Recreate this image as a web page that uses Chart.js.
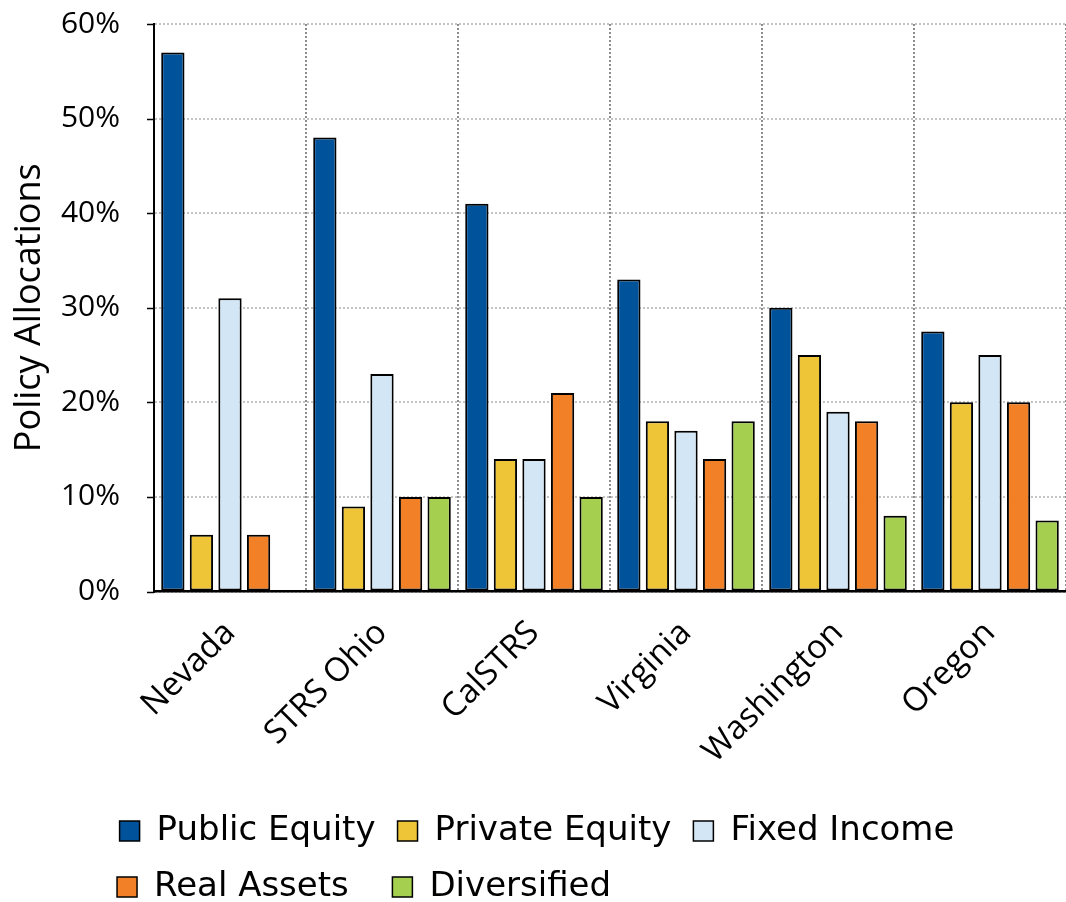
<!DOCTYPE html>
<html>
<head>
<meta charset="utf-8">
<script src="https://cdn.jsdelivr.net/npm/chart.js@4"></script>
<style>
  html, body { margin: 0; padding: 0; background: #fff; }
  #wrap { width: 1066px; height: 902px; }
</style>
</head>
<body>
<div id="wrap"><canvas id="chart"></canvas></div>
<script>
// data
const plans = ["Nevada", "STRS Ohio", "CalSTRS", "Virginia", "Washington", "Oregon"];
const publicEquity  = [57, 48, 41, 33, 30, 27.5];
const privateEquity = [6, 9, 14, 18, 25, 20];
const fixedIncome   = [31, 23, 14, 17, 19, 25];
const realAssets    = [6, 10, 21, 14, 18, 20];
const diversified   = [null, 10, 10, 18, 8, 7.5];
const yTicks = [0, 10, 20, 30, 40, 50, 60];

const sansFont = "'Open Sans', 'DejaVu Sans', sans-serif";
const legendFont = "'DejaVu Sans', sans-serif";

// trailing spaces so the two legend rows line up as columns (rows are centred)
const legendPad = {
  "Real Assets": "Real Assets  ",
  "Diversified": "Diversified" + " ".repeat(32),
};

// solid black tick marks on the y axis (grid lines themselves are dotted)
const tickMarks = {
  id: "tickMarks",
  afterDraw(chart) {
    const y = chart.scales.y, ctx = chart.ctx;
    ctx.save();
    ctx.strokeStyle = "#000";
    ctx.lineWidth = 1.5;
    yTicks.forEach(v => {
      const py = Math.round(y.getPixelForValue(v)) + 0.5;
      ctx.beginPath();
      ctx.moveTo(y.right - 7, py);
      ctx.lineTo(y.right, py);
      ctx.stroke();
    });
    ctx.restore();
  }
};

// legend box is a bit shorter than chart.js makes it
const tightLegend = {
  id: "tightLegend",
  beforeLayout(chart) {
    const lg = chart.legend;
    if (!lg || lg._tight) return;
    const fit = lg.fit;
    lg.fit = function () {
      fit.call(this);
      this.height -= 12;
    };
    lg._tight = true;
  }
};

const ds = (label, data, color) => ({
  label: label,
  data: data,
  backgroundColor: color,
  borderColor: "#000",
  borderWidth: 2,
  borderSkipped: false,
  categoryPercentage: 0.94,
  barPercentage: 0.815,
});

new Chart(document.getElementById("chart"), {
  type: "bar",
  data: {
    labels: plans,
    datasets: [
      ds("Public Equity", publicEquity, "#00529b"),
      ds("Private Equity", privateEquity, "#eec537"),
      ds("Fixed Income", fixedIncome, "#d2e6f5"),
      ds("Real Assets", realAssets, "#f28026"),
      ds("Diversified", diversified, "#a5cf4e"),
    ],
  },
  options: {
    responsive: true,
    maintainAspectRatio: false,
    animation: false,
    layout: { padding: { left: 8, right: 0, top: 24, bottom: 0 } },
    plugins: {
      tooltip: { enabled: false },
      legend: {
        position: "bottom",
        align: "center",
        labels: {
          font: { family: legendFont, size: 34 },
          color: "#000",
          boxWidth: 20,
          boxHeight: 20,
          padding: 22,
          generateLabels(chart) {
            const items = Chart.defaults.plugins.legend.labels.generateLabels(chart);
            items.forEach(it => {
              it.text = legendPad[it.text] || it.text;
              it.lineWidth = 1.5;
            });
            return items;
          },
        },
      },
    },
    scales: {
      x: {
        offset: true,
        afterFit(scale) {
          scale.paddingLeft = 0;
          scale.paddingRight = 0;
          scale.height -= 1;
        },
        grid: {
          offset: true,
          drawTicks: false,
          color: "#8c8c8c",
          lineWidth: 2,
        },
        border: { display: true, color: "#000", width: 2.5, dash: [2, 2] },
        ticks: {
          font: { family: sansFont, size: 33 },
          color: "#000",
          maxRotation: 45,
          minRotation: 45,
          padding: 22,
        },
      },
      y: {
        min: 0,
        max: 60,
        afterBuildTicks(scale) {
          scale.ticks = yTicks.map(v => ({ value: v }));
        },
        afterFit(scale) {
          scale.paddingTop = 0;
          scale.paddingBottom = 0;
          scale.width = 146;
        },
        grid: {
          drawTicks: false,
          color: "#c4c4c4",
          lineWidth: 2,
        },
        border: { display: true, color: "#000", width: 2, dash: [2, 2] },
        ticks: {
          font: { family: sansFont, size: 30 },
          color: "#000",
          padding: 34,
          callback: v => v + "%",
        },
        title: {
          display: true,
          text: "Policy Allocations",
          font: { family: sansFont, size: 36 },
          color: "#000",
          padding: { top: 0, bottom: 12 },
        },
      },
    },
  },
  plugins: [tickMarks, tightLegend],
});
</script>
</body>
</html>
